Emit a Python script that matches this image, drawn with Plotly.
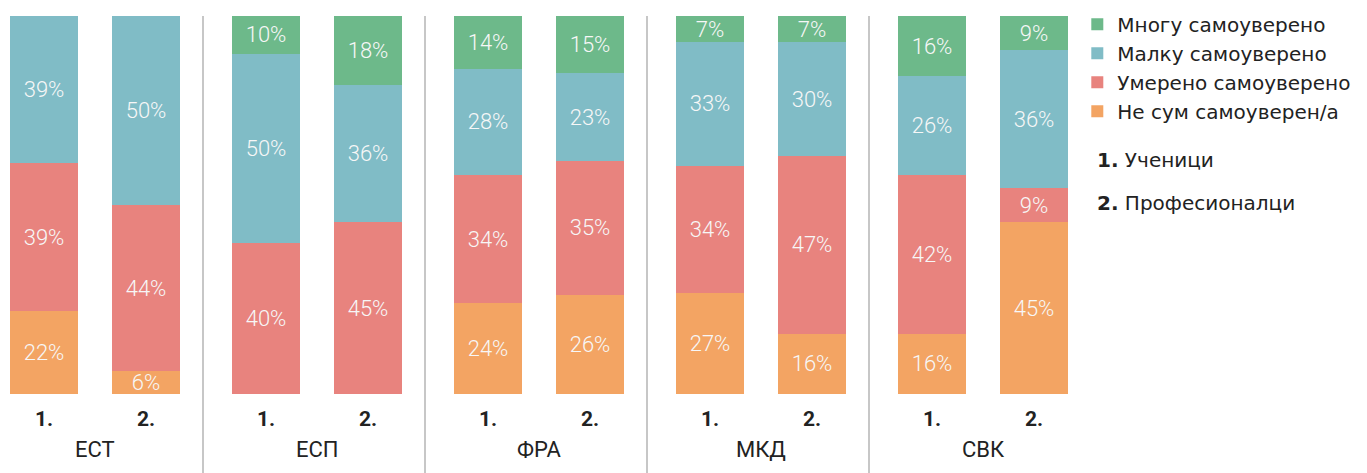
import plotly.graph_objects as go

groups = ["ЕСТ", "ЕСП", "ФРА", "МКД", "СВК"]
members = ["1.", "2."]
series_names = ["Не сум самоуверен/а", "Умерено самоуверено", "Малку самоуверено", "Многу самоуверено"]
# values per bar: ЕСТ1, ЕСТ2, ЕСП1, ЕСП2, ФРА1, ФРА2, МКД1, МКД2, СВК1, СВК2
ne_sum = [22, 6, 0, 0, 24, 26, 27, 16, 16, 45]
umereno = [39, 44, 40, 45, 34, 35, 34, 47, 42, 9]
malku = [39, 50, 50, 36, 28, 23, 33, 30, 26, 36]
mnogu = [0, 0, 10, 18, 14, 15, 7, 7, 16, 9]
colors = ["#f3a463", "#e8837e", "#80bcc6", "#6db98a"]
legend_notes = ["<b>1.</b> Ученици", "<b>2.</b> Професионалци"]

GROUP_STEP = 2.22
PAIR_OFF = 1.02
xpos = [g * GROUP_STEP + i * PAIR_OFF for g in range(len(groups)) for i in range(len(members))]

fig = go.Figure()
for name, vals, col in zip(series_names, [ne_sum, umereno, malku, mnogu], colors):
    fig.add_trace(go.Bar(
        x=xpos, y=vals, name=name, width=0.68,
        marker=dict(color=col, line=dict(width=0)),
        text=[f"{v}%" if v > 0 else "" for v in vals],
        textposition="inside", insidetextanchor="middle",
        textfont=dict(family="Roboto", size=22, color="#f7f7f7", weight=300),
        hoverinfo="skip",
    ))

shapes = []
for g in range(len(groups) - 1):
    xs = g * GROUP_STEP + PAIR_OFF + (GROUP_STEP - PAIR_OFF) / 2 - 0.03
    shapes.append(dict(type="line", xref="x", yref="paper", x0=xs, x1=xs, y0=-0.21, y1=1.0,
                       line=dict(color="#b5b5b5", width=1.5)))

annotations = []
for g, name in enumerate(groups):
    annotations.append(dict(x=g * GROUP_STEP + PAIR_OFF / 2, xref="x", y=-0.148, yref="paper",
                            text=name, showarrow=False, xanchor="center", yanchor="middle",
                            font=dict(family="Roboto", size=22, color="#222222")))
for j, note in enumerate(legend_notes):
    annotations.append(dict(x=1.014, xref="paper", y=0.619 - j * 0.114, yref="paper",
                            text=note, showarrow=False, xanchor="left", yanchor="middle",
                            font=dict(family="DejaVu Sans", size=20, color="#222222")))

fig.update_layout(
    width=1367, height=473,
    margin=dict(l=0, r=287, t=16, b=79),
    barmode="stack", barnorm="percent",
    plot_bgcolor="white", paper_bgcolor="white",
    uniformtext=dict(minsize=20, mode="show"),
    xaxis=dict(range=[-0.44, -0.44 + 10.80], tickvals=xpos,
               ticktext=[f"<b>{m}</b>" for _ in groups for m in members],
               showgrid=False, zeroline=False, showline=False, ticks="",
               ticklabelstandoff=10,
               tickfont=dict(family="Roboto", size=21, color="#222222")),
    yaxis=dict(range=[0, 100], visible=False, showgrid=False),
    legend=dict(x=0.9975, xanchor="left", y=1.03, yanchor="top", traceorder="reversed",
                font=dict(family="DejaVu Sans", size=20, color="#222222"),
                itemwidth=30, tracegroupgap=0, bgcolor="rgba(0,0,0,0)"),
    shapes=shapes, annotations=annotations,
    showlegend=True,
)

fig.write_html("out.html")
